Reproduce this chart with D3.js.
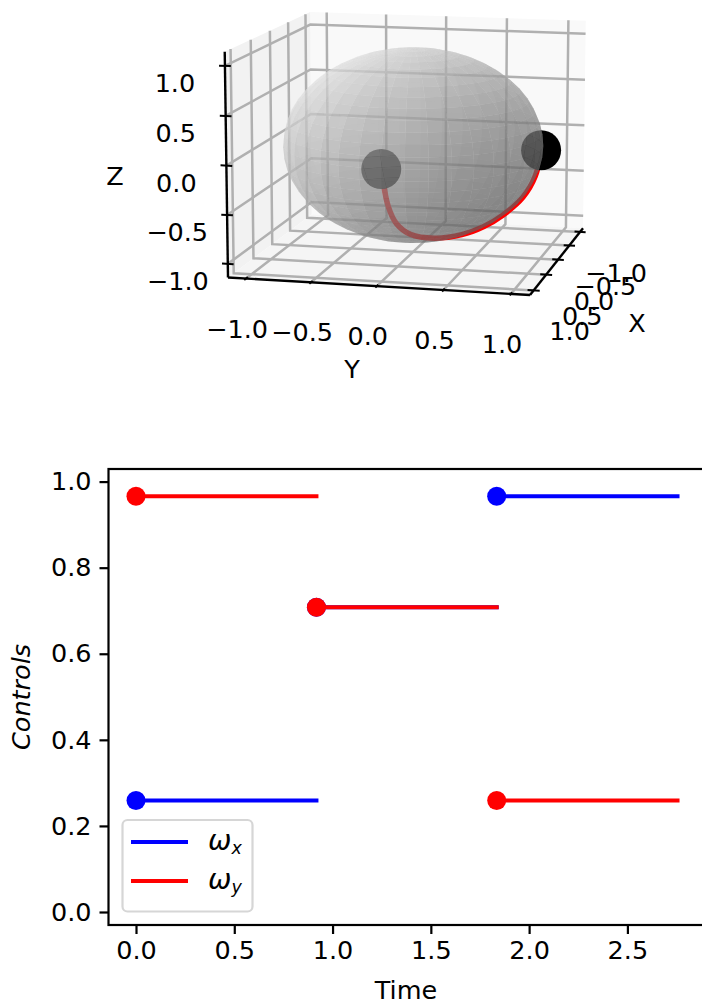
<!DOCTYPE html>
<html>
<head>
<meta charset="utf-8">
<style>
  html, body { margin: 0; padding: 0; background: #fff; }
  svg { display: block; }
  text { font-family: "DejaVu Sans", sans-serif; fill: #000; }
</style>
<script src="https://cdnjs.cloudflare.com/ajax/libs/d3/7.8.5/d3.min.js"></script>
</head>
<body>
<svg id="chart" width="702" height="1008"></svg>
<script>
// controls panel
const timeEdges = [0, 0.918, 1.835, 2.755];
const omegaX = [0.259, 0.708, 0.966];
const omegaY = [0.966, 0.708, 0.259];
const xTicks = [0, 0.5, 1, 1.5, 2, 2.5];
const yTicks = [0, 0.2, 0.4, 0.6, 0.8, 1];

// bloch panel
const axisTicks = [-1, -0.5, 0, 0.5, 1];
const startDot = [1, 0, 0];
const endDot = [0, 1, 0];
const pathX = [1.00, 0.91, 0.78, 0.59, 0.39, 0.16, 0.10, 0.07, 0.04, 0.02, 0];
const pathY = [0.00, 0.03, 0.06, 0.12, 0.26, 0.42, 0.58, 0.72, 0.87, 0.96, 1];
const pathZ = [0.00, -0.40, -0.61, -0.77, -0.86, -0.88, -0.80, -0.68, -0.49, -0.27, 0];

const lim = 1.14, elev = 10.7, azim = 13.5, dist = 9.5;
const boxSize = [1.143, 1.143, 0.857];
const fontPx = 25.5;

const svg = d3.select("#chart");

// ---- projection, same recipe as mplot3d: 4:4:3 box, eye at a fixed distance
const er = elev * Math.PI / 180, ar = azim * Math.PI / 180;
const n = [Math.cos(er) * Math.cos(ar), Math.cos(er) * Math.sin(ar), Math.sin(er)];
const right = [-Math.sin(ar), Math.cos(ar), 0];
const up = [-Math.sin(er) * Math.cos(ar), -Math.sin(er) * Math.sin(ar), Math.cos(er)];
const dot = (a, b) => a[0] * b[0] + a[1] * b[1] + a[2] * b[2];
const toBox = d3.scaleLinear().domain([-lim, lim]).range([-0.5, 0.5]);

function rawProject(p) {
  let c = p.map((v, i) => toBox(v) * boxSize[i]);
  let w = dist - dot(c, n);
  return [dot(c, right) / w, dot(c, up) / w, dot(c, n)];
}

const uScale = d3.scaleLinear()
  .domain([rawProject([lim, -lim, -lim])[0], rawProject([-lim, lim, -lim])[0]])
  .range([228, 583]);
const vScale = d3.scaleLinear()
  .domain([rawProject([lim, lim, -lim])[1], rawProject([-lim, -lim, lim])[1]])
  .range([295, 12]);

function project(p) {
  let r = rawProject(p);
  return [uScale(r[0]), vScale(r[1])];
}

const line3d = d3.line();
const path3d = pts => line3d(pts.map(project));

const bloch = svg.append("g");

// panes
const panes = [
  { c: "#f9f9f9", pts: [[-lim, -lim, -lim], [-lim, lim, -lim], [-lim, lim, lim], [-lim, -lim, lim]] },
  { c: "#f2f2f2", pts: [[-lim, -lim, -lim], [lim, -lim, -lim], [lim, -lim, lim], [-lim, -lim, lim]] },
  { c: "#f5f5f5", pts: [[-lim, -lim, -lim], [lim, -lim, -lim], [lim, lim, -lim], [-lim, lim, -lim]] }
];
bloch.selectAll("path.pane").data(panes).enter().append("path")
  .attr("class", "pane")
  .attr("d", d => path3d(d.pts) + "Z")
  .attr("fill", d => d.c);

// grid on the three back planes
let gridLines = [];
axisTicks.forEach(t => {
  gridLines.push([[t, lim, -lim], [t, -lim, -lim], [t, -lim, lim]]);
  gridLines.push([[lim, t, -lim], [-lim, t, -lim], [-lim, t, lim]]);
  gridLines.push([[lim, -lim, t], [-lim, -lim, t], [-lim, lim, t]]);
});
bloch.selectAll("path.grid").data(gridLines).enter().append("path")
  .attr("class", "grid")
  .attr("d", path3d)
  .attr("fill", "none")
  .attr("stroke", "#b0b0b0")
  .attr("stroke-width", 2.5);

// axis lines
const axisLines = [
  [[lim, -lim, -lim], [lim, lim, -lim]],
  [[lim, lim, -lim], [-lim, lim, -lim]],
  [[lim, -lim, -lim], [lim, -lim, lim]]
];
bloch.selectAll("path.axis3d").data(axisLines).enter().append("path")
  .attr("class", "axis3d")
  .attr("d", path3d)
  .attr("fill", "none")
  .attr("stroke", "#000")
  .attr("stroke-width", 2.4);

// tick marks and their labels
const tk = 0.045;
const fmt = d3.format(".1f");
const label = v => fmt(v).replace("-", "\u2212");
const tickSets = [
  { at: t => [lim, t, -lim], a: t => [lim - tk, t, -lim], b: t => [lim + tk, t, -lim], dx: -9, dy: 50 },
  { at: t => [t, lim, -lim], a: t => [t, lim - tk, -lim], b: t => [t, lim + tk, -lim], dx: 36, dy: 41 },
  { at: t => [lim, -lim, t], a: t => [lim, -lim + tk, t], b: t => [lim, -lim - tk, t], dx: -50, dy: 17 }
];
tickSets.forEach(s => {
  bloch.selectAll(null).data(axisTicks).enter().append("path")
    .attr("d", t => path3d([s.a(t), s.b(t)]))
    .attr("stroke", "#000")
    .attr("stroke-width", 2);
  bloch.selectAll(null).data(axisTicks).enter().append("text")
    .attr("x", t => project(s.at(t))[0] + s.dx)
    .attr("y", t => project(s.at(t))[1] + s.dy + 9)
    .attr("text-anchor", "middle")
    .attr("font-size", fontPx)
    .text(label);
});
[["X", 637, 332], ["Y", 352, 378], ["Z", 115, 185]].forEach(a => {
  bloch.append("text").attr("x", a[1]).attr("y", a[2])
    .attr("text-anchor", "middle").attr("font-size", fontPx).text(a[0]);
});

// trajectory and state dots go under the sphere
const pathPts = pathX.map((x, i) => [x, pathY[i], pathZ[i]]);
bloch.append("path")
  .attr("d", d3.line().curve(d3.curveCatmullRom)(pathPts.map(project)))
  .attr("fill", "none")
  .attr("stroke", "#ff0000")
  .attr("stroke-width", 5.5);
[startDot, endDot].forEach(p => {
  let c = project(p);
  bloch.append("circle").attr("cx", c[0]).attr("cy", c[1]).attr("r", 20).attr("fill", "#000");
});

// sphere mesh
const lonN = 36, latN = 26;
const light = [-2 / 3, -2 / 3, 1 / 3];
const spherePt = (i, j) => {
  let lon = i / lonN * 2 * Math.PI, lat = j / latN * Math.PI;
  return [Math.cos(lon) * Math.sin(lat), Math.sin(lon) * Math.sin(lat), Math.cos(lat)];
};
let facets = [];
d3.range(lonN).forEach(i => d3.range(latN).forEach(j => {
  let pts = [spherePt(i, j), spherePt(i + 1, j), spherePt(i + 1, j + 1), spherePt(i, j + 1)];
  let mid = [0, 1, 2].map(k => d3.mean(pts, q => q[k]));
  let len = Math.hypot(mid[0], mid[1], mid[2]);
  let nrm = mid.map(m => m / len);
  facets.push({ pts: pts, depth: dot(mid, n), shade: dot(nrm, light) });
}));
facets.sort((a, b) => a.depth - b.depth);
const shadeScale = d3.scaleLinear().domain([-1, 1]).range([0.3, 1]);
const facetFill = s => {
  let g = Math.round(255 * shadeScale(s));
  return d3.rgb(g, g, g).formatRgb();
};
bloch.append("g").selectAll("path").data(facets).enter().append("path")
  .attr("d", d => path3d(d.pts) + "Z")
  .attr("fill", d => facetFill(d.shade))
  .attr("fill-opacity", 0.5);

// ---- controls panel
const plotW = { left: 108.5, right: 705, top: 469, bottom: 925 };
const x = d3.scaleLinear().domain([0, 2.5]).range([136, 627.4]);
const y = d3.scaleLinear().domain([0, 1]).range([912, 481.6]);

const panel = svg.append("g");
const xAxis = panel.append("g")
  .attr("transform", `translate(0,${plotW.bottom})`)
  .call(d3.axisBottom(x).tickValues(xTicks).tickFormat(d3.format(".1f")).tickSize(9).tickPadding(7));
const yAxis = panel.append("g")
  .attr("transform", `translate(${plotW.left},0)`)
  .call(d3.axisLeft(y).tickValues(yTicks).tickFormat(d3.format(".1f")).tickSize(9).tickPadding(8));
[xAxis, yAxis].forEach(a => {
  a.select(".domain").remove();
  a.selectAll("line").attr("stroke", "#000").attr("stroke-width", 2.2);
  a.selectAll("text").attr("font-size", fontPx).attr("font-family", '"DejaVu Sans", sans-serif');
});
panel.append("rect")
  .attr("x", plotW.left).attr("y", plotW.top)
  .attr("width", plotW.right - plotW.left).attr("height", plotW.bottom - plotW.top)
  .attr("fill", "none").attr("stroke", "#000").attr("stroke-width", 2.2);

const series = [
  { name: "x", color: "#0000ff", values: omegaX },
  { name: "y", color: "#ff0000", values: omegaY }
];
series.forEach(s => {
  s.values.forEach((v, i) => {
    panel.append("path")
      .attr("d", d3.line()([[x(timeEdges[i]), y(v)], [x(timeEdges[i + 1]), y(v)]]))
      .attr("stroke", s.color)
      .attr("stroke-width", 4)
      .attr("stroke-linecap", "square");
    panel.append("circle")
      .attr("cx", x(timeEdges[i])).attr("cy", y(v))
      .attr("r", 9.5).attr("fill", s.color);
  });
});

panel.append("text").attr("x", 406).attr("y", 999)
  .attr("text-anchor", "middle").attr("font-size", fontPx).text("Time");
panel.append("text")
  .attr("transform", "translate(30,697) rotate(-90)")
  .attr("text-anchor", "middle").attr("font-size", fontPx).attr("font-style", "italic")
  .text("Controls");

// legend
panel.append("rect")
  .attr("x", 122.5).attr("y", 820).attr("width", 130).attr("height", 91.5).attr("rx", 5)
  .attr("fill", "#fff").attr("fill-opacity", 0.8)
  .attr("stroke", "#d6d6d6").attr("stroke-width", 2.2);
series.forEach((s, i) => {
  let ly = 842 + i * 39;
  panel.append("path").attr("d", d3.line()([[131, ly], [188, ly]]))
    .attr("stroke", s.color).attr("stroke-width", 4);
  let t = panel.append("text").attr("x", 208).attr("y", ly + 8).attr("font-size", fontPx).attr("font-style", "italic");
  t.append("tspan").attr("font-size", 28).text("\u03c9");
  t.append("tspan").attr("dy", 4).attr("font-size", 17.5).text(s.name);
});
</script>
</body>
</html>
